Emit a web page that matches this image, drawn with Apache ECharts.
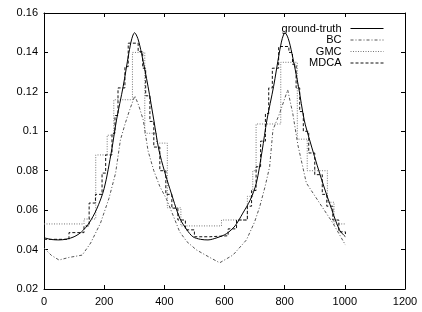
<!DOCTYPE html>
<html>
<head>
<meta charset="utf-8">
<script src="https://cdn.jsdelivr.net/npm/echarts@6/dist/echarts.min.js"></script>
<style>
html, body { margin: 0; padding: 0; background: #fff; }
#chart { width: 422px; height: 312px; }
</style>
</head>
<body>
<div id="chart"></div>
<script>
// values
const xTicks = [0, 200, 400, 600, 800, 1000, 1200]
const yTicks = [0.02, 0.04, 0.06, 0.08, 0.1, 0.12, 0.14, 0.16]

const gtX = [0, 25, 50, 75, 100, 125, 150, 175, 200, 225, 241, 263, 282, 292, 301, 312, 324, 346, 365, 382, 400, 418, 451, 475, 495, 520, 545, 575, 606, 635, 661, 685, 706, 725, 741, 763, 782, 792, 801, 812, 824, 846, 865, 883, 916, 949, 982, 1002]
const gtY = [0.046, 0.0451, 0.0449, 0.0453, 0.0465, 0.049, 0.0535, 0.0605, 0.071, 0.0905, 0.1057, 0.1226, 0.1396, 0.147, 0.150, 0.147, 0.1396, 0.1226, 0.1057, 0.0905, 0.080, 0.071, 0.056, 0.050, 0.0465, 0.0452, 0.0449, 0.046, 0.048, 0.052, 0.0585, 0.065, 0.0738, 0.09, 0.1057, 0.1226, 0.1396, 0.147, 0.150, 0.147, 0.1396, 0.1226, 0.1057, 0.0956, 0.0788, 0.0636, 0.050, 0.0465]

const bcX = [0, 25, 50, 83, 127, 155, 188, 216, 238, 254, 270, 285, 302, 315, 330, 346, 365, 385, 407, 430, 451, 475, 507, 551, 584, 628, 673, 700, 717, 735, 750, 761, 783, 810, 827, 844, 872, 916, 960, 1002]
const bcY = [0.0408, 0.037, 0.0347, 0.036, 0.0372, 0.0433, 0.0535, 0.066, 0.0788, 0.0956, 0.104, 0.111, 0.118, 0.113, 0.1057, 0.090, 0.080, 0.072, 0.0657, 0.057, 0.049, 0.044, 0.0398, 0.036, 0.0333, 0.0372, 0.0449, 0.054, 0.0617, 0.072, 0.082, 0.1007, 0.109, 0.121, 0.109, 0.093, 0.0738, 0.0636, 0.0535, 0.0423]

// step series: value holds from x[i] to x[i+1]
const gmcX = [0, 133, 172, 210, 232, 294, 335, 374, 410, 455, 590, 676, 694, 705, 787, 842, 875, 942, 964, 1002]
const gmcY = [0.053, 0.0555, 0.088, 0.098, 0.116, 0.140, 0.099, 0.094, 0.0612, 0.052, 0.055, 0.067, 0.080, 0.1037, 0.135, 0.096, 0.080, 0.064, 0.053, 0.053]

const mdcaX = [0, 83, 133, 150, 171, 193, 205, 226, 236, 246, 269, 280, 313, 328, 338, 352, 365, 385, 405, 425, 445, 470, 500, 551, 612, 640, 676, 690, 705, 720, 736, 747, 759, 780, 814, 826, 838, 850, 862, 880, 900, 925, 940, 960, 980, 1002]
const mdcaY = [0.0452, 0.0486, 0.052, 0.0636, 0.068, 0.0788, 0.088, 0.099, 0.108, 0.122, 0.1328, 0.1447, 0.1404, 0.132, 0.118, 0.105, 0.092, 0.080, 0.068, 0.061, 0.055, 0.050, 0.0465, 0.047, 0.0505, 0.055, 0.062, 0.070, 0.082, 0.095, 0.109, 0.122, 0.132, 0.143, 0.140, 0.134, 0.122, 0.110, 0.100, 0.089, 0.078, 0.068, 0.062, 0.055, 0.049, 0.047]

const names = ['ground-truth', 'BC', 'GMC', 'MDCA']

function pairs (xs, ys) {
  return xs.map((x, i) => [x, ys[i]])
}

let chartDom = document.getElementById('chart')
let myChart = echarts.init(chartDom, null, { renderer: 'canvas' })
let option
const font = 'Liberation Sans'

const tickAxis = {
  min: xTicks[0],
  max: xTicks[xTicks.length - 1],
  interval: 200,
  axisLine: { show: true, onZero: false, lineStyle: { color: '#000', width: 1 } },
  axisTick: { show: true, inside: true, length: 4, lineStyle: { color: '#000' } },
  splitLine: { show: false }
}

option = {
  animation: false,
  backgroundColor: '#fff',
  grid: { left: 44, right: 17, top: 13, bottom: 23 },
  legend: {
    data: names,
    orient: 'vertical',
    align: 'right',
    right: 33,
    top: 18,
    itemWidth: 33,
    itemHeight: 8,
    itemGap: 0.5,
    itemStyle: { opacity: 0 },
    lineStyle: { width: 1 },
    textStyle: { fontFamily: font, fontSize: 11, color: '#000', lineHeight: 11, padding: [0, 4, 0, 0] }
  },
  xAxis: [
    Object.assign({}, tickAxis, {
      type: 'value',
      position: 'bottom',
      axisLabel: { margin: 7, fontFamily: font, fontSize: 11, color: '#000', formatter: v => String(v) }
    }),
    Object.assign({}, tickAxis, {
      type: 'value',
      position: 'top',
      axisLabel: { show: false }
    })
  ],
  yAxis: [
    Object.assign({}, tickAxis, {
      type: 'value',
      position: 'left',
      min: yTicks[0],
      max: yTicks[yTicks.length - 1],
      interval: 0.02,
      axisLabel: { margin: 6, fontFamily: font, fontSize: 11, color: '#000' }
    }),
    Object.assign({}, tickAxis, {
      type: 'value',
      position: 'right',
      min: yTicks[0],
      max: yTicks[yTicks.length - 1],
      interval: 0.02,
      axisLabel: { show: false }
    })
  ],
  series: [
    {
      name: names[0],
      type: 'line',
      symbol: 'none',
      smooth: 0.3,
      data: pairs(gtX, gtY),
      lineStyle: { color: '#000', width: 1, type: 'solid' },
      itemStyle: { color: '#000' },
      z: 5
    },
    {
      name: names[1],
      type: 'line',
      symbol: 'none',
      data: pairs(bcX, bcY),
      lineStyle: { color: '#555', width: 1, type: [3, 2, 1, 2] },
      itemStyle: { color: '#555' }
    },
    {
      name: names[2],
      type: 'line',
      symbol: 'none',
      step: 'end',
      data: pairs(gmcX, gmcY),
      lineStyle: { color: '#777', width: 1, type: [1, 1.5] },
      itemStyle: { color: '#777' }
    },
    {
      name: names[3],
      type: 'line',
      symbol: 'none',
      step: 'end',
      data: pairs(mdcaX, mdcaY),
      lineStyle: { color: '#111', width: 1, type: [3, 2] },
      itemStyle: { color: '#111' }
    }
  ]
}
option && myChart.setOption(option)
</script>
</body>
</html>
